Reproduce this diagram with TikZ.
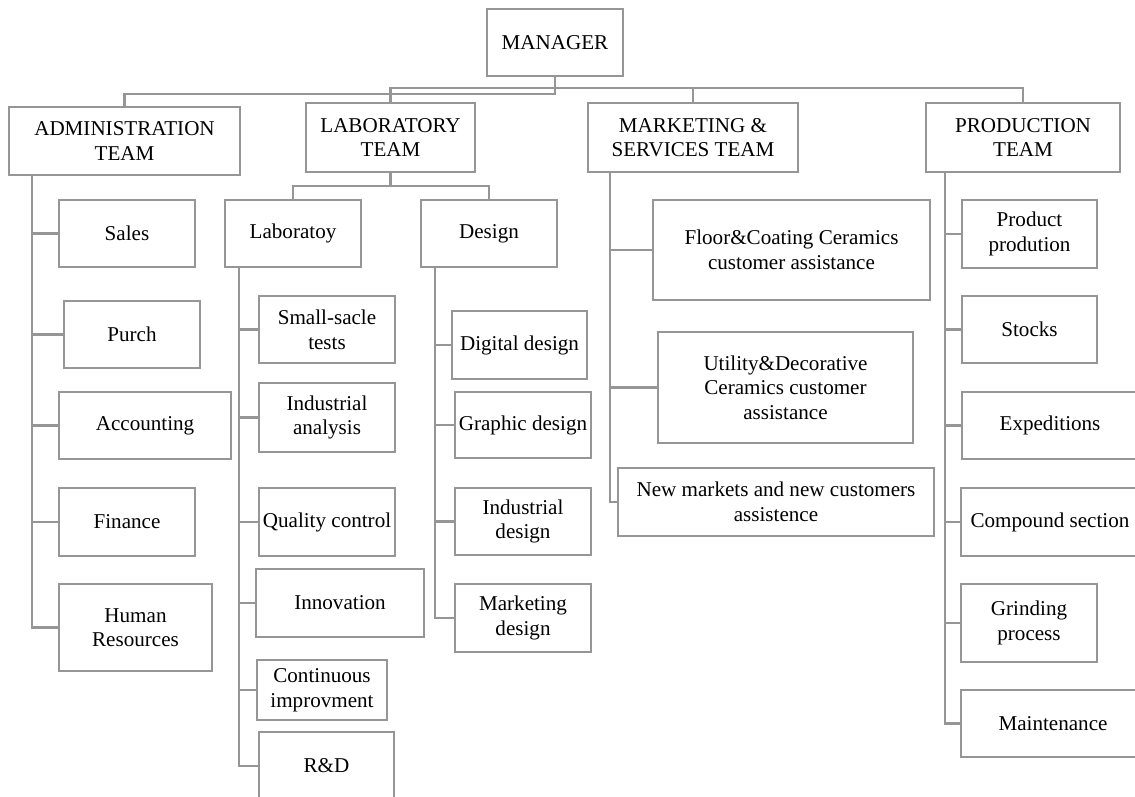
\documentclass[tikz,border=0pt]{standalone}
\usepackage{fontspec}
\setmainfont{Liberation Serif}

\definecolor{linegray}{RGB}{150,150,150}

\begin{document}
\begin{tikzpicture}[x=0.025cm, y=-0.025cm,
    box/.style={draw=linegray, line width=1.7pt, inner sep=1pt, align=center,
        font=\fontsize{15}{17.5}\selectfont},
    link/.style={draw=linegray, line width=1.7pt}]
    \useasboundingbox (0,0) rectangle (1135,796);
    \clip (0,0) rectangle (1135,796);

    % top level
    \node[box, minimum width=3.4cm, minimum height=1.675cm] (mgr) at (555,42.5) {MANAGER};
    \node[box, minimum width=5.775cm, minimum height=1.7cm] (admin) at (124.5,141) {ADMINISTRATION\\TEAM};
    \node[box, minimum width=4.225cm, minimum height=1.725cm] (lab) at (390.5,137.5) {LABORATORY\\TEAM};
    \node[box, minimum width=5.25cm, minimum height=1.725cm] (mkt) at (693,137.5) {MARKETING \&\\SERVICES TEAM};
    \node[box, minimum width=4.85cm, minimum height=1.725cm] (prod) at (1023,137.5) {PRODUCTION\\TEAM};

    \draw[link] (mgr.south) -- ++(0,17) -| (admin.north);
    \draw[link] (lab.north) -- ++(0,-14) -| (prod.north);
    \draw[link] (mkt.north) -- ++(0,-14);

    % administration
    \node[box, minimum width=3.4cm, minimum height=1.675cm] (sales) at (127,233.5) {Sales};
    \node[box, minimum width=3.4cm, minimum height=1.675cm] (purch) at (132,334.5) {Purch};
    \node[box, minimum width=4.3cm, minimum height=1.675cm] (accounting) at (145,425.5) {Accounting};
    \node[box, minimum width=3.4cm, minimum height=1.7cm] (finance) at (127,522) {Finance};
    \node[box, minimum width=3.825cm, minimum height=2.175cm] (hr) at (135.5,627.5) {Human\\Resources};

    \coordinate (a0) at (32,175);
    \foreach \n in {sales,purch,accounting,finance}
        \draw[link] (\n.west) -- (\n.west -| a0);
    \draw[link] (a0) |- (hr.west);

    % laboratory
    \node[box, minimum width=3.4cm, minimum height=1.675cm] (laby) at (293,233.5) {Laboratoy};
    \node[box, minimum width=3.4cm, minimum height=1.675cm] (design) at (489,233.5) {Design};

    \draw[link] (lab.south) -- ++(0,13) -| (laby.north);
    \draw[link] (lab.south) -- ++(0,13) -| (design.north);

    \node[box, minimum width=3.4cm, minimum height=1.675cm] (smalltests) at (327,329.5) {Small-sacle\\tests};
    \node[box, minimum width=3.4cm, minimum height=1.725cm] (indanalysis) at (327,417.5) {Industrial\\analysis};
    \node[box, minimum width=3.4cm, minimum height=1.7cm] (quality) at (327,522) {Quality control};
    \node[box, minimum width=4.2cm, minimum height=1.7cm] (innovation) at (340,603) {Innovation};
    \node[box, minimum width=3.25cm, minimum height=1.5cm] (continuous) at (322,690) {Continuous\\improvment};
    \node[box, minimum width=3.375cm, minimum height=1.7cm] (rnd) at (326.5,766) {R\&D};

    \coordinate (l0) at (239,267);
    \foreach \n in {smalltests,indanalysis,quality,innovation,continuous}
        \draw[link] (\n.west) -- (\n.west -| l0);
    \draw[link] (l0) |- (rnd.west);

    \node[box, minimum width=3.375cm, minimum height=1.7cm] (digital) at (519.5,345) {Digital design};
    \node[box, minimum width=3.4cm, minimum height=1.65cm] (graphic) at (523,425) {Graphic design};
    \node[box, minimum width=3.4cm, minimum height=1.675cm] (inddesign) at (523,521.5) {Industrial\\design};
    \node[box, minimum width=3.4cm, minimum height=1.7cm] (mktdesign) at (523,618) {Marketing\\design};

    \coordinate (d0) at (435,267);
    \foreach \n in {digital,graphic,inddesign}
        \draw[link] (\n.west) -- (\n.west -| d0);
    \draw[link] (d0) |- (mktdesign.west);

    % marketing & services
    \node[box, minimum width=6.925cm, minimum height=2.5cm] (floor) at (791.5,250) {Floor\&Coating Ceramics\\customer assistance};
    \node[box, minimum width=6.375cm, minimum height=2.775cm] (utility) at (785.5,387.5) {Utility\&Decorative\\Ceramics customer\\assistance};
    \node[box, minimum width=7.9cm, minimum height=1.7cm] (newmkt) at (776,502) {New markets and new customers\\assistence};

    \coordinate (m0) at (610,172);
    \foreach \n in {floor,utility}
        \draw[link] (\n.west) -- (\n.west -| m0);
    \draw[link] (m0) |- (newmkt.west);

    % production
    \node[box, minimum width=3.375cm, minimum height=1.7cm] (product) at (1029.5,234) {Product\\prodution};
    \node[box, minimum width=3.375cm, minimum height=1.675cm] (stocks) at (1029.5,329.5) {Stocks};
    \node[box, minimum width=4.4cm, minimum height=1.675cm] (expeditions) at (1050,425.5) {Expeditions};
    \node[box, minimum width=4.45cm, minimum height=1.7cm] (compound) at (1050,522) {Compound section};
    \node[box, minimum width=3.4cm, minimum height=1.95cm] (grinding) at (1029,623) {Grinding\\process};
    \node[box, minimum width=4.6cm, minimum height=1.675cm] (maintenance) at (1053,723.5) {Maintenance};

    \coordinate (p0) at (945,172);
    \foreach \n in {product,stocks,expeditions,compound,grinding}
        \draw[link] (\n.west) -- (\n.west -| p0);
    \draw[link] (p0) |- (maintenance.west);
\end{tikzpicture}
\end{document}
